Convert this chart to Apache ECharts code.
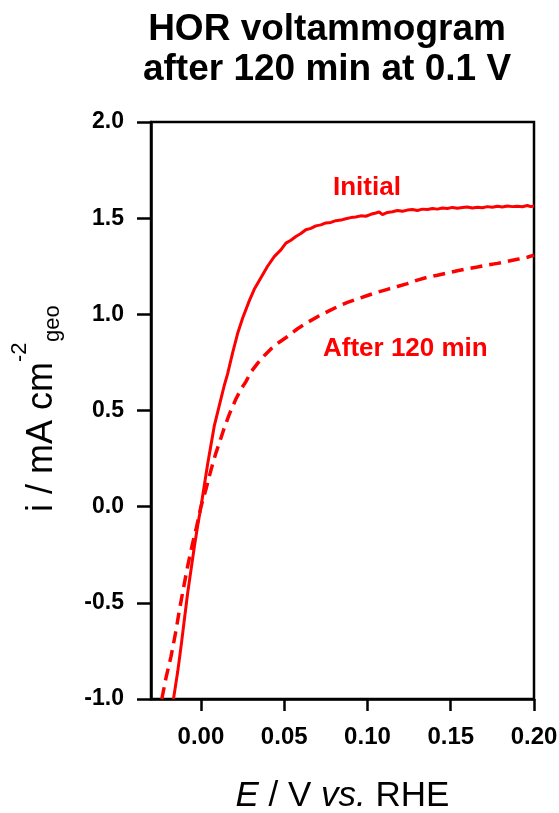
<!DOCTYPE html>
<html>
<head>
<meta charset="utf-8">
<script src="https://cdn.jsdelivr.net/npm/echarts@6/dist/echarts.min.js"></script>
<style>html,body{margin:0;padding:0;background:#fff}#c{width:559px;height:813px}</style>
</head>
<body>
<div id="c"></div>
<script>
// ---- data ----
const xTicks = [0.00, 0.05, 0.10, 0.15, 0.20];
const yTicks = [-1.0, -0.5, 0.0, 0.5, 1.0, 1.5, 2.0];
const seriesNames = ['Initial', 'After 120 min'];

const initialE = [-0.0165,-0.014,-0.012,-0.010,-0.008,-0.006,-0.004,-0.002,0.000,0.002,0.004,0.006,0.008,0.010,0.012,0.014,0.016,0.019,0.022,0.025,0.029,0.032,0.036,0.040,0.044,0.048,0.051,0.054,0.057,0.060,0.063,0.066,0.069,0.072,0.075,0.078,0.081,0.084,0.087,0.090,0.093,0.096,0.099,0.102,0.105,0.107,0.109,0.112,0.115,0.118,0.121,0.124,0.127,0.130,0.133,0.136,0.139,0.142,0.145,0.148,0.151,0.154,0.157,0.160,0.163,0.166,0.169,0.172,0.175,0.178,0.181,0.184,0.187,0.190,0.193,0.196,0.198,0.200];
const initialI = [-1.00,-0.86,-0.73,-0.59,-0.45,-0.33,-0.21,-0.10,0.00,0.11,0.22,0.32,0.42,0.49,0.56,0.63,0.69,0.80,0.90,0.98,1.07,1.13,1.19,1.25,1.30,1.335,1.37,1.385,1.405,1.42,1.44,1.447,1.46,1.465,1.475,1.478,1.487,1.49,1.497,1.503,1.506,1.512,1.51,1.52,1.527,1.532,1.518,1.53,1.533,1.54,1.536,1.542,1.545,1.54,1.547,1.545,1.55,1.547,1.553,1.55,1.556,1.552,1.555,1.558,1.553,1.557,1.554,1.56,1.557,1.562,1.558,1.563,1.56,1.562,1.559,1.566,1.56,1.563];

const afterE = [-0.0235,-0.021,-0.018,-0.015,-0.013,-0.010,-0.008,-0.005,-0.003,0.000,0.003,0.006,0.009,0.011,0.014,0.017,0.019,0.021,0.024,0.027,0.030,0.034,0.038,0.042,0.047,0.052,0.058,0.064,0.070,0.076,0.082,0.088,0.094,0.100,0.106,0.112,0.118,0.124,0.130,0.136,0.142,0.148,0.154,0.160,0.166,0.172,0.178,0.184,0.190,0.196,0.200];
const afterI = [-1.00,-0.89,-0.78,-0.645,-0.54,-0.40,-0.31,-0.19,-0.12,0.00,0.09,0.19,0.28,0.33,0.41,0.48,0.52,0.56,0.61,0.65,0.70,0.745,0.785,0.82,0.855,0.885,0.925,0.958,0.988,1.014,1.04,1.062,1.08,1.098,1.115,1.13,1.145,1.16,1.178,1.193,1.203,1.215,1.227,1.237,1.246,1.256,1.265,1.275,1.286,1.297,1.308];

const pair = (xs, ys) => xs.map((x, k) => [x, ys[k]]);
const FONT = 'Arial, "Liberation Sans", Helvetica, sans-serif';
const RED = '#ff0000';

const chart = echarts.init(document.getElementById('c'), null, {renderer: 'canvas'});
chart.setOption({
  backgroundColor: '#ffffff',
  animation: false,
  title: {
    text: 'HOR voltammogram\nafter 120 min at 0.1 V',
    left: 327, top: 10, padding: 0, textAlign: 'center',
    textStyle: {fontFamily: FONT, fontSize: 37, fontWeight: 'bold', color: '#000', lineHeight: 40}
  },
  grid: {left: 151, right: 25, top: 122, bottom: 114, outerBoundsMode: 'none', containLabel: false,
    show: true, borderColor: '#000', borderWidth: 2.5, backgroundColor: 'transparent'},
  xAxis: {
    type: 'value', min: -0.03, max: 0.2,
    name: '{it|E} / V {it|vs.} RHE', nameLocation: 'middle', nameGap: 80,
    nameTextStyle: {fontFamily: FONT, fontSize: 35, color: '#000',
      rich: {it: {fontFamily: FONT, fontSize: 35, fontStyle: 'italic', color: '#000'}}},
    axisLine: {show: true, onZero: false, lineStyle: {color: '#000', width: 2.5}},
    axisTick: {show: true, inside: false, length: 12, customValues: xTicks, lineStyle: {color: '#000', width: 2.5}},
    axisLabel: {show: true, customValues: xTicks, margin: 26, fontFamily: FONT, fontSize: 24, fontWeight: 'bold', color: '#000',
      formatter: v => v.toFixed(2)},
    splitLine: {show: false}
  },
  yAxis: {
    type: 'value', min: -1, max: 2, interval: 0.5,
    axisLine: {show: true, onZero: false, lineStyle: {color: '#000', width: 2.5}},
    axisTick: {show: true, inside: false, length: 14, lineStyle: {color: '#000', width: 2.5}},
    axisLabel: {show: true, margin: 27, fontFamily: FONT, fontSize: 23, fontWeight: 'bold', color: '#000',
      formatter: v => v.toFixed(1)},
    splitLine: {show: false}
  },
  series: [
    {name: seriesNames[0], type: 'line', data: pair(initialE, initialI), showSymbol: false, symbol: 'none',
      lineStyle: {color: RED, width: 3}, clip: true, z: 3},
    {name: seriesNames[1], type: 'line', data: pair(afterE, afterI), showSymbol: false, symbol: 'none',
      lineStyle: {color: RED, width: 3.5, type: [12, 7]}, clip: true, z: 3}
  ],
  graphic: [
    {type: 'text', x: 333, y: 201, style: {text: seriesNames[0], fill: RED, font: 'bold 26px ' + FONT, align: 'left', verticalAlign: 'bottom'}},
    {type: 'text', x: 323, y: 362, style: {text: seriesNames[1], fill: RED, font: 'bold 26px ' + FONT, align: 'left', verticalAlign: 'bottom'}},
    {type: 'text', x: 60, y: 512, rotation: Math.PI / 2, style: {text: 'i / mA cm', fill: '#000', font: '36px ' + FONT, align: 'left', verticalAlign: 'bottom'}},
    {type: 'text', x: 31, y: 362, rotation: Math.PI / 2, style: {text: '-2', fill: '#000', font: '22px ' + FONT, align: 'left', verticalAlign: 'bottom'}},
    {type: 'text', x: 64, y: 342, rotation: Math.PI / 2, style: {text: 'geo', fill: '#000', font: '22px ' + FONT, align: 'left', verticalAlign: 'bottom'}}
  ]
});
</script>
</body>
</html>
